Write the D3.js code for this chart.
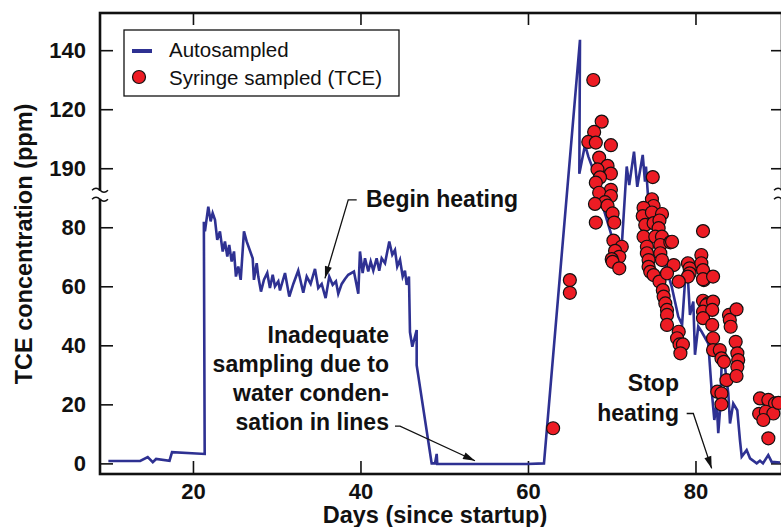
<!DOCTYPE html>
<html>
<head>
<meta charset="utf-8">
<script src="https://cdn.jsdelivr.net/npm/d3@7"></script>
<style>
  body { margin: 0; background: #fff; }
  svg { display: block; font-family: "Liberation Sans", Arial, Helvetica, sans-serif; }
</style>
</head>
<body>
<div id="chart"></div>
<script>
// tick values and labels (the axis is broken above 80, the "100" slot reads 190)
var dayTicks = [20, 40, 60, 80];
var concTicks = [0, 20, 40, 60, 80, 100, 120, 140];
var concTickLabels = ["0", "20", "40", "60", "80", "190", "120", "140"];

// autosampled TCE [day, ppm]
var autosampled = [
  [9.9,0.8],[13.7,0.8],[14.6,2.1],[15.2,0.4],[15.6,1.5],[17.2,0.9],[17.5,3.8],[21.4,3.2],
  [21.3,81.9],[21.43,78.6],[21.83,87.0],[22.11,82.0],[22.35,84.8],[22.63,82.5],[22.90,75.7],
  [23.22,78.6],[23.55,71.8],[23.82,75.2],[24.10,70.1],[24.33,74.0],[24.62,68.4],[24.90,71.8],
  [25.13,63.3],[25.41,66.7],[25.70,62.2],[26.09,78.6],[26.41,75.2],[27.13,69.5],[27.28,62.2],
  [27.61,67.8],[27.80,63.3],[28.12,58.2],[28.48,62.2],[28.87,64.5],[29.19,59.4],[29.52,63.9],
  [29.79,60.0],[30.19,61.7],[30.39,58.6],[30.99,64.5],[31.50,56.5],[31.98,60.8],[32.57,65.3],
  [33.17,57.8],[33.58,63.3],[34.05,60.8],[34.57,65.9],[34.96,59.4],[35.37,60.8],[35.84,56.0],
  [36.27,63.3],[36.68,60.5],[37.07,61.7],[37.35,57.5],[37.76,60.8],[38.15,62.5],[38.54,63.9],
  [39.22,65.0],[39.74,57.5],[39.94,71.8],[40.26,64.5],[40.54,69.5],[40.93,65.0],[41.22,68.4],
  [41.53,65.3],[41.93,69.5],[42.24,65.3],[42.53,69.5],[42.93,67.8],[43.44,75.2],[43.80,70.7],
  [44.12,72.3],[44.39,66.7],[44.72,69.0],[45.04,63.3],[45.31,65.3],[45.52,60.5],[45.79,63.3],
  [45.91,44.5],[46.19,39.5],[46.71,45.2],[46.71,33.3],[48.50,0],[48.90,0],[49.10,3.2],
  [49.17,-0.2],[59.84,-0.2],[61.91,0],[66.21,143.5],[66.13,98.1],[66.81,107.9],[67.20,104.0],
  [67.80,99.4],[69.0,86.5],[69.79,79.0],[70.5,72.0],[71.19,73.4],[71.79,100.6],[72.09,94.3],
  [72.66,105.6],[73.05,93.7],[73.70,104.5],[73.97,95.5],[74.09,100.6],[74.36,89.3],[75.6,76.0],
  [76.56,65.5],[77.16,59.9],[77.95,49.7],[78.4,47.0],[78.95,70.0],[79.34,50.3],[79.74,54.8],
  [79.94,36.8],[80.33,46.4],[80.74,44.6],[81.53,40.6],[81.93,24.8],[82.25,14.7],[82.53,20.3],
  [82.72,10.2],[82.93,18.0],[83.13,33.9],[83.52,32.7],[83.92,23.7],[84.12,13.5],[84.51,20.3],
  [84.99,18.0],[85.31,7.9],[85.52,2.3],[86.11,4.5],[86.51,1.7],[87.31,0.0],[87.70,0.9],
  [88.06,0.0],[88.69,2.8],[89.10,0.5],[90.09,0.3]
];

// syringe sampled TCE [day, ppm]
var syringe = [
  [63.0,11.9],[65.0,62.1],[65.0,57.8],[67.8,129.9],[68.8,115.8],[67.9,112.3],[67.2,108.9],
  [68.1,108.7],[69.9,107.8],[68.5,103.6],[69.5,100.8],[68.3,99.6],[69.9,98.2],[68.6,96.9],
  [68.1,95.1],[69.9,92.7],[68.5,91.7],[69.9,90.6],[69.2,88.5],[68.0,87.9],[69.5,87.3],
  [70.1,84.7],[70.3,81.6],[68.1,81.6],[70.2,75.5],[71.2,73.4],[70.4,72.0],[70.9,70.0],
  [70.0,69.2],[70.1,68.3],[70.9,66.1],[74.9,97.0],[74.8,89.5],[75.0,87.2],[73.8,86.6],
  [73.7,83.8],[74.8,85.0],[76.0,84.5],[74.0,80.8],[75.0,81.4],[75.7,82.3],[75.6,79.7],
  [73.8,76.8],[75.2,76.8],[76.0,76.8],[74.2,73.4],[75.8,74.0],[74.2,71.2],[75.8,71.2],
  [77.0,74.9],[77.2,75.1],[74.4,68.9],[74.4,66.6],[74.6,64.9],[75.0,63.8],[76.0,68.9],
  [75.7,61.6],[76.1,58.7],[76.2,56.5],[76.4,54.2],[76.6,52.0],[76.6,50.3],[76.6,46.9],
  [78.0,44.6],[77.8,42.4],[78.1,40.3],[78.5,40.3],[78.2,37.3],[79.1,67.8],[79.3,66.1],
  [79.3,64.4],[79.1,63.3],[78.0,61.6],[77.4,67.2],[76.6,64.4],[80.7,70.6],[80.7,67.8],
  [80.9,65.5],[81.0,62.1],[80.9,62.4],[82.1,63.3],[80.9,78.7],[80.9,55.1],[81.5,54.2],
  [81.3,53.6],[82.1,54.8],[80.9,51.4],[82.0,52.0],[80.9,49.2],[82.0,46.9],[82.1,42.4],
  [82.1,38.4],[82.9,38.4],[83.1,35.6],[83.4,34.4],[83.7,28.2],[82.6,24.3],[83.1,23.7],
  [83.1,20.0],[84.0,50.3],[84.1,48.6],[84.2,46.3],[84.9,52.2],[84.8,41.2],[85.0,37.3],
  [85.1,35.0],[85.0,32.7],[84.9,29.6],[87.7,22.0],[88.7,21.5],[89.5,20.3],[87.6,16.8],
  [88.4,17.5],[89.3,16.9],[88.1,14.7],[88.7,8.5],[89.9,20.5]
];

var W = 781, H = 527;
var margin = {left: 100, top: 13, right: 782, bottom: 474};

var svg = d3.select("#chart")
            .append("svg")
            .attr("width", W)
            .attr("height", H);

var x = d3.scaleLinear().domain([8.9, 90.33]).range([margin.left, margin.right]);
var y = d3.scaleLinear().domain([-3.6, 152.6]).range([margin.bottom, margin.top]);

// clip for marks
svg.append("clipPath").attr("id", "plotclip")
   .append("rect")
   .attr("x", margin.left).attr("y", margin.top)
   .attr("width", margin.right - margin.left)
   .attr("height", margin.bottom - margin.top);

var tickFont = "bold 22px 'Liberation Sans', Arial, sans-serif";

// axes: ticks point inward
var gLeft = svg.append("g")
   .attr("transform", "translate(" + margin.left + ",0)")
   .call(d3.axisLeft(y).tickValues(concTicks).tickSize(-13).tickPadding(14)
          .tickFormat(function(d, i) { return concTickLabels[i]; }));
var gRight = svg.append("g")
   .attr("transform", "translate(" + margin.right + ",0)")
   .call(d3.axisRight(y).tickValues(concTicks).tickSize(-11).tickFormat(""));
var gBottom = svg.append("g")
   .attr("transform", "translate(0," + margin.bottom + ")")
   .call(d3.axisBottom(x).tickValues(dayTicks).tickSize(-13).tickPadding(9));
var gTop = svg.append("g")
   .attr("transform", "translate(0," + margin.top + ")")
   .call(d3.axisTop(x).tickValues(dayTicks).tickSize(-12).tickFormat(""));

[gLeft, gRight, gBottom, gTop].forEach(function(g) {
    g.select(".domain").remove();
    g.selectAll(".tick line").attr("stroke", "#111").attr("stroke-width", 1.6);
    g.selectAll(".tick text")
     .style("font", tickFont)
     .attr("fill", "#111");
});

// frame
svg.append("rect")
   .attr("x", margin.left).attr("y", margin.top)
   .attr("width", margin.right - margin.left)
   .attr("height", margin.bottom - margin.top)
   .attr("fill", "none")
   .attr("stroke", "#111")
   .attr("stroke-width", 2.6);

// axis break marks at ~91 ppm
[margin.left, margin.right].forEach(function(sx) {
    var by = y(91);
    svg.append("rect")
       .attr("x", sx - 3).attr("y", by - 4)
       .attr("width", 6).attr("height", 8)
       .attr("fill", "#fff");
    [-4.5, 4.5].forEach(function(off) {
        svg.append("path")
           .attr("d", "M" + (sx - 8) + "," + (by + off) +
                      " q4,-4 8,0 t8,0")
           .attr("fill", "none")
           .attr("stroke", "#111")
           .attr("stroke-width", 1.4);
    });
});

var plot = svg.append("g").attr("clip-path", "url(#plotclip)");

var line = d3.line()
             .x(function(d) { return x(d[0]); })
             .y(function(d) { return y(d[1]); });

plot.append("path")
    .datum(autosampled)
    .attr("d", line)
    .attr("fill", "none")
    .attr("stroke", "#2e3192")
    .attr("stroke-width", 2.6)
    .attr("stroke-linejoin", "miter");

plot.selectAll("circle.syr")
    .data(syringe)
    .enter()
    .append("circle")
    .attr("class", "syr")
    .attr("cx", function(d) { return x(d[0]); })
    .attr("cy", function(d) { return y(d[1]); })
    .attr("r", 6.5)
    .attr("fill", "#ed1c24")
    .attr("stroke", "#111")
    .attr("stroke-width", 1.2);

// axis titles
svg.append("text")
   .attr("transform", "translate(32,244) rotate(-90)")
   .attr("text-anchor", "middle")
   .style("font", "bold 23.5px 'Liberation Sans', Arial, sans-serif")
   .attr("fill", "#111")
   .text("TCE concentration (ppm)");

svg.append("text")
   .attr("x", 435).attr("y", 523)
   .attr("text-anchor", "middle")
   .style("font", "bold 23.5px 'Liberation Sans', Arial, sans-serif")
   .attr("fill", "#111")
   .text("Days (since startup)");

// legend
var leg = svg.append("g");
leg.append("rect")
   .attr("x", 124).attr("y", 30).attr("width", 275).attr("height", 66)
   .attr("fill", "#fff").attr("stroke", "#111").attr("stroke-width", 1.3);
leg.append("line")
   .attr("x1", 132).attr("x2", 152).attr("y1", 51).attr("y2", 51)
   .attr("stroke", "#2e3192").attr("stroke-width", 4);
leg.append("circle")
   .attr("cx", 139).attr("cy", 77).attr("r", 6.5)
   .attr("fill", "#ed1c24").attr("stroke", "#111").attr("stroke-width", 1.2);
leg.append("text")
   .attr("x", 169).attr("y", 57)
   .style("font", "20.5px 'Liberation Sans', Arial, sans-serif")
   .attr("fill", "#111")
   .text("Autosampled");
leg.append("text")
   .attr("x", 169).attr("y", 85)
   .style("font", "20.5px 'Liberation Sans', Arial, sans-serif")
   .attr("fill", "#111")
   .text("Syringe sampled (TCE)");

// annotations
svg.append("defs").append("marker")
   .attr("id", "arrow")
   .attr("viewBox", "0 -4 12 8")
   .attr("refX", 12).attr("refY", 0)
   .attr("markerUnits", "userSpaceOnUse")
   .attr("markerWidth", 13).attr("markerHeight", 8)
   .attr("orient", "auto")
   .append("path")
   .attr("d", "M0,-3.6L12,0L0,3.6Z")
   .attr("fill", "#111");

var annoFont = "bold 23px 'Liberation Sans', Arial, sans-serif";

function arrow(pts) {
    svg.append("path")
       .attr("d", d3.line()(pts.map(function(p) { return [x(p[0]), y(p[1])]; })))
       .attr("fill", "none")
       .attr("stroke", "#111")
       .attr("stroke-width", 1.3)
       .attr("marker-end", "url(#arrow)");
}

function label(lines, dx, dv, anchor) {
    var t = svg.append("text")
               .attr("text-anchor", anchor)
               .style("font", annoFont)
               .attr("fill", "#111");
    lines.forEach(function(s, i) {
        t.append("tspan")
         .attr("x", x(dx))
         .attr("y", y(dv) + i * 29.2)
         .text(s);
    });
}

label(["Begin heating"], 40.66, 86.9, "start");
arrow([[39.55, 89.3], [38.54, 89.3], [35.76, 62.7]]);

label(["Inadequate", "sampling due to", "water conden-", "sation in lines"], 43.4, 40.9, "end");
arrow([[44.12, 12.6], [44.72, 12.6], [53.67, 0.9]]);

label(["Stop", "heating"], 78.03, 24.4, "end");
arrow([[78.95, 16.9], [79.74, 16.9], [81.93, -1.7]]);
</script>
</body>
</html>
